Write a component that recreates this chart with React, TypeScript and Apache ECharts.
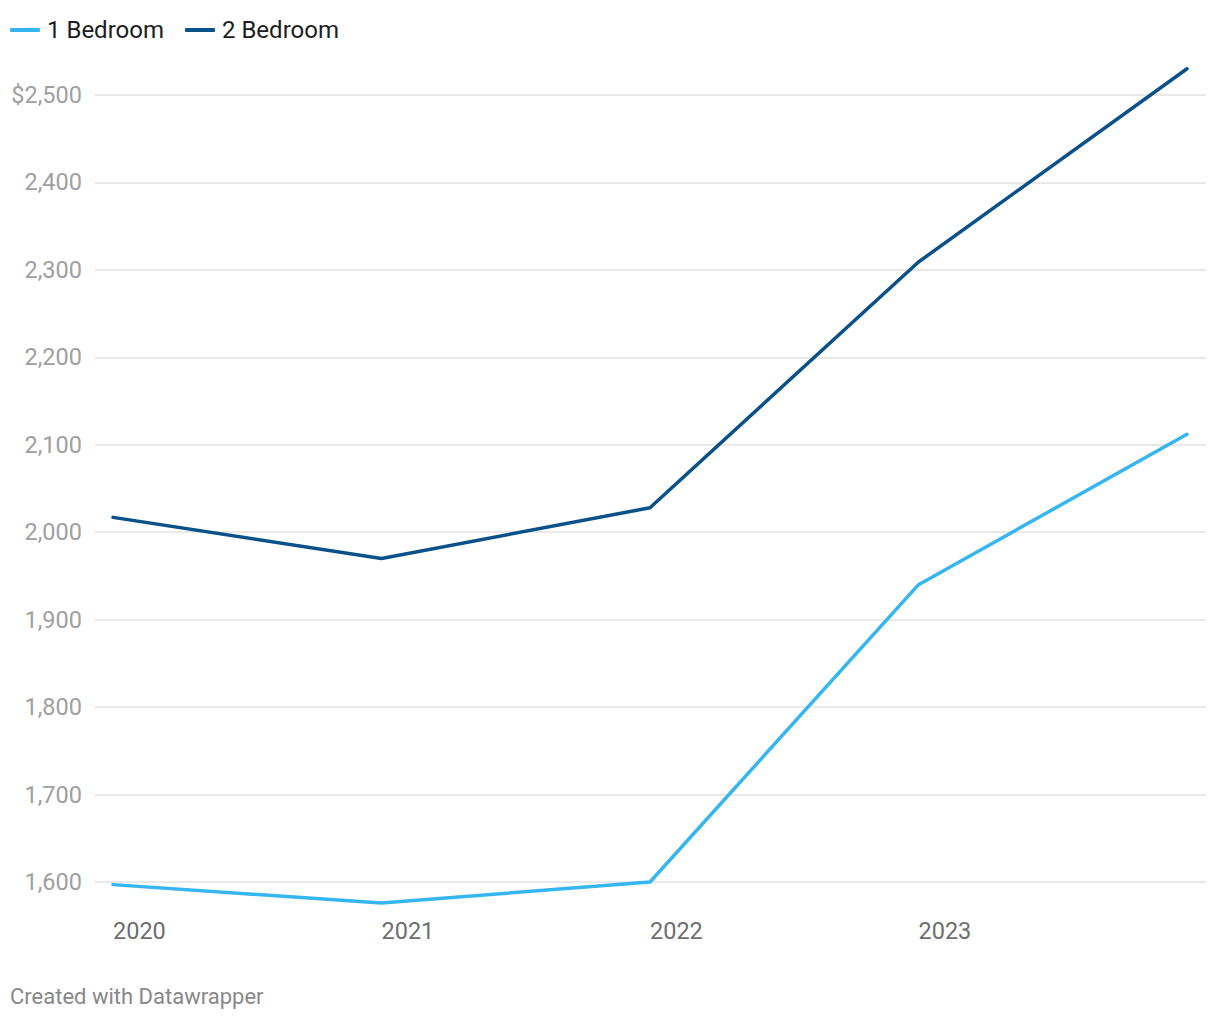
import React, { useEffect, useRef } from "react";
import * as echarts from "echarts";

const years = [2020, 2021, 2022, 2023, 2024];
const labelYears = [2020, 2021, 2022, 2023];
const oneBedroom = [1597, 1576, 1600, 1940, 2112];
const twoBedroom = [2017, 1970, 2028, 2309, 2530];
const seriesNames = ["1 Bedroom", "2 Bedroom"];
const colors = ["#36b6f0", "#0a5189"];

export default function App() {
  const ref = useRef<HTMLDivElement>(null);
  useEffect(() => {
    if (!ref.current) return;
    const chart = echarts.init(ref.current, null, { renderer: "svg" });
    const font = "Roboto";
    const mk = (vals: number[]) => years.map((y, i) => [y, vals[i]]);
    chart.setOption({
      animation: false,
      backgroundColor: "#ffffff",
      textStyle: { fontFamily: font },
      legend: {
        left: 10,
        top: 18,
        padding: 0,
        itemWidth: 30,
        itemHeight: 4,
        itemGap: 21,
        icon: "roundRect",
        textStyle: { fontFamily: font, fontSize: 24, color: "#1d1d1d", padding: [0, 0, 0, 2] },
        data: seriesNames,
      },
      grid: { left: 95, right: 14, top: 95, bottom: 138, containLabel: false },
      xAxis: {
        type: "value",
        min: 2019.933,
        max: 2024.0708,
        axisLine: { show: false },
        axisTick: { show: false },
        splitLine: { show: false },
        axisLabel: {
          customValues: labelYears,
          showMinLabel: true,
          showMaxLabel: true,
          align: "left",
          margin: 37,
          fontFamily: font,
          fontSize: 23.5,
          color: "#6e6e6e",
          formatter: (v: number) => String(Math.round(v)),
        },
      },
      yAxis: {
        type: "value",
        min: 1600,
        max: 2500,
        interval: 100,
        axisLine: { show: false },
        axisTick: { show: false },
        splitLine: { show: true, lineStyle: { color: "#e2e2e2", width: 1.5 } },
        axisLabel: {
          margin: 13,
          fontFamily: font,
          fontSize: 23.5,
          color: "#a0a0a0",
          formatter: (v: number) => (v === 2500 ? "$2,500" : v.toLocaleString("en-US")),
        },
      },
      series: [
        {
          name: seriesNames[0],
          type: "line",
          data: mk(oneBedroom),
          symbol: "none",
          clip: false,
          lineStyle: { color: colors[0], width: 3.5, cap: "round", join: "round" },
          itemStyle: { color: colors[0] },
        },
        {
          name: seriesNames[1],
          type: "line",
          data: mk(twoBedroom),
          symbol: "none",
          clip: false,
          lineStyle: { color: colors[1], width: 3.5, cap: "round", join: "round" },
          itemStyle: { color: colors[1] },
        },
      ],
      graphic: [
        {
          type: "text",
          left: 10,
          top: 985,
          style: { text: "Created with Datawrapper", fontFamily: font, fontSize: 22, fill: "#888888" },
        },
      ],
    });
    return () => chart.dispose();
  }, []);
  return (
    <div
      ref={ref}
      style={{ position: "fixed", left: 0, top: 0, width: 1220, height: 1020, background: "#fff" }}
    />
  );
}
